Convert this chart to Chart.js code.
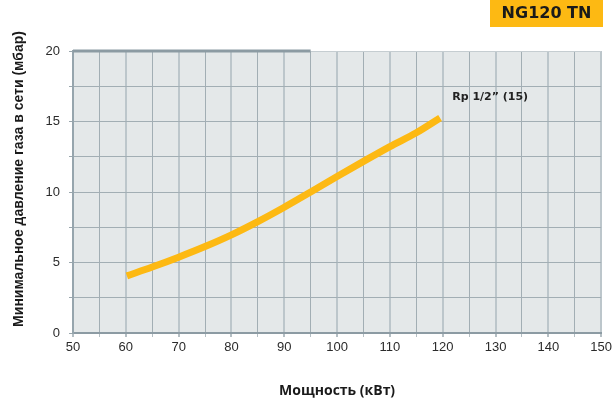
<!DOCTYPE html>
<html><head><meta charset="utf-8">
<script src="https://cdn.jsdelivr.net/npm/chart.js@4/dist/chart.umd.min.js"></script>
<style>html,body{margin:0;padding:0;background:#fff}#wrap{width:615px;height:402px;position:relative}</style>
</head><body><div id="wrap"><canvas id="c" width="615" height="402"></canvas></div>
<script>
// ---- data ----
const powerKW = [60.2, 65, 70, 75, 80, 85, 90, 95, 100, 105, 110, 115, 119.5];
const minPressureMbar = [4.05, 4.68, 5.38, 6.13, 6.96, 7.9, 8.92, 10.0, 11.1, 12.17, 13.22, 14.2, 15.25];
const xTickLabels = [50, 60, 70, 80, 90, 100, 110, 120, 130, 140, 150];
const yTickLabels = [0, 5, 10, 15, 20];
const seriesLabel = 'Rp 1/2” (15)';
const seriesLabelAt = [121.8, 16.73];
const badgeText = 'NG120 TN';
const xTitle = 'Мощность (кВт)';
const yTitle = 'Минимальное давление газа в сети (мбар)';

const ORANGE = '#fdb913';

const plotBg = {
  id: 'plotBg',
  beforeDraw(chart) {
    const {ctx, chartArea: a} = chart;
    ctx.save();
    ctx.fillStyle = '#e4e8e9';
    ctx.fillRect(a.left, a.top, a.right - a.left, a.bottom - a.top);
    ctx.restore();
  },
  beforeDatasetsDraw(chart) {
    const {ctx, scales: {x, y}} = chart;
    ctx.save();
    ctx.strokeStyle = '#8c9ba3';
    ctx.lineWidth = 3;
    ctx.beginPath();
    ctx.moveTo(x.getPixelForValue(50), y.getPixelForValue(20));
    ctx.lineTo(x.getPixelForValue(95), y.getPixelForValue(20));
    ctx.stroke();
    ctx.restore();
  }
};

const extras = {
  id: 'extras',
  afterDraw(chart) {
    const {ctx, scales: {x, y}} = chart;
    ctx.save();
    // series label
    ctx.fillStyle = '#222';
    ctx.font = 'bold 11px "DejaVu Sans"';
    ctx.textAlign = 'left';
    ctx.textBaseline = 'middle';
    ctx.fillText(seriesLabel, x.getPixelForValue(seriesLabelAt[0]), y.getPixelForValue(seriesLabelAt[1]));
    // badge
    ctx.fillStyle = ORANGE;
    ctx.fillRect(490, 0, 113, 27);
    ctx.fillStyle = '#1a1a1a';
    ctx.font = 'bold 16px "DejaVu Sans"';
    ctx.textAlign = 'center';
    ctx.fillText(badgeText, 546.5, 14);
    // y title
    ctx.translate(19, 179);
    ctx.rotate(-Math.PI / 2);
    ctx.font = 'bold 14px "Liberation Sans"';
    ctx.fillStyle = '#1a1a1a';
    ctx.textAlign = 'center';
    ctx.fillText(yTitle, 0, 0);
    ctx.restore();
  }
};

new Chart(document.getElementById('c'), {
  type: 'line',
  data: {
    datasets: [{
      label: seriesLabel,
      data: powerKW.map((p, i) => ({x: p, y: minPressureMbar[i]})),
      borderColor: ORANGE,
      borderWidth: 7,
      borderCapStyle: 'butt',
      pointRadius: 0,
      cubicInterpolationMode: 'monotone',
      fill: false
    }]
  },
  options: {
    responsive: false,
    animation: false,
    devicePixelRatio: 1,
    layout: {padding: {left: 0, right: 12, top: 51, bottom: 0}},
    plugins: {legend: {display: false}, tooltip: {enabled: false}},
    scales: {
      x: {
        type: 'linear', min: 50, max: 150,
        afterFit(s) { s.height = 69; },
        ticks: {
          stepSize: 5, autoSkip: false, maxRotation: 0,
          callback: v => xTickLabels.includes(v) ? String(v) : '',
          font: {family: 'Liberation Sans', size: 13}, color: '#2b2b2b', padding: 3
        },
        grid: {
          color: c => (c.tick && c.tick.value % 10 === 0) ? '#bcc6cb' : '#a2aeb4',
          lineWidth: c => (c.tick && c.tick.value % 10 === 0) ? 2 : 1,
          tickLength: 4, tickColor: '#b5bfc4'
        },
        border: {color: '#8c9ba3', width: 2},
        title: {
          display: true, text: xTitle, color: '#1a1a1a',
          font: {family: 'Open Sans', weight: 'bold', size: 14},
          padding: {top: 0, bottom: 3}
        }
      },
      y: {
        min: 0, max: 20,
        afterFit(s) { s.width = 73; },
        ticks: {
          stepSize: 2.5, autoSkip: false,
          callback: v => yTickLabels.includes(v) ? String(v) : '',
          font: {family: 'Liberation Sans', size: 13}, color: '#2b2b2b', padding: 9
        },
        grid: {
          color: c => (c.tick && c.tick.value === 20) ? '#c5cdd1' : '#a2aeb4',
          lineWidth: 1, tickLength: 4, tickColor: '#9aa7ad'
        },
        border: {color: '#96a5ad', width: 2}
      }
    }
  },
  plugins: [plotBg, extras]
});
</script></body></html>
